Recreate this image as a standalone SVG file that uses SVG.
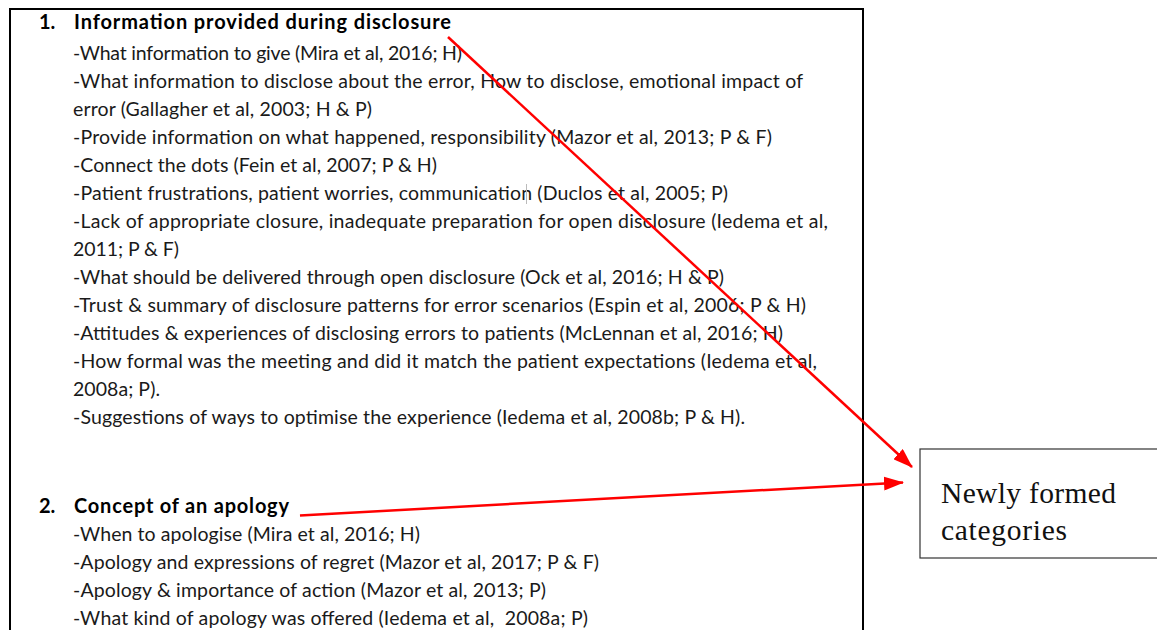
<svg xmlns="http://www.w3.org/2000/svg" width="1157" height="630" viewBox="0 0 1157 630">
  <style>
    .body { font-family: Lato, "Open Sans", sans-serif; font-size: 19.5px; fill: #1a1a1a; }
    .head { font-family: Lato, "Open Sans", sans-serif; font-size: 20px; font-weight: bold; fill: #000; }
    .note { font-family: "Liberation Serif", "DejaVu Serif", serif; font-size: 29.5px; fill: #111; }
    .frame { fill: #fff; stroke: #000; stroke-width: 2; }
    .box { fill: #fff; stroke: #333; stroke-width: 1.2; }
    .link { stroke: #f00; stroke-width: 2.5; fill: none; marker-end: url(#head); }
  </style>
  <defs>
    <marker id="head" markerUnits="userSpaceOnUse" markerWidth="20" markerHeight="14" refX="19" refY="7" orient="auto">
      <path d="M0,0 L20,7 L0,14 z" fill="#f00"/>
    </marker>
  </defs>
  <rect width="1157" height="630" fill="#fff"/>

  <!-- list of codes -->
  <g id="codes">
    <rect class="frame" x="10" y="9" width="853" height="640"/>
    <text class="head" x="39" y="29">1.</text>
    <text class="head" x="74" y="29" textLength="377" lengthAdjust="spacing">Information provided during disclosure</text>
    <text class="body" x="73" y="60" textLength="389" lengthAdjust="spacing">-What information to give (Mira et al, 2016; H)</text>
    <text class="body" x="73" y="88" textLength="730" lengthAdjust="spacing">-What information to disclose about the error, How to disclose, emotional impact of</text>
    <text class="body" x="73" y="116" textLength="299" lengthAdjust="spacing">error (Gallagher et al, 2003; H &amp; P)</text>
    <text class="body" x="73" y="144" textLength="699" lengthAdjust="spacing">-Provide information on what happened, responsibility (Mazor et al, 2013; P &amp; F)</text>
    <text class="body" x="73" y="172" textLength="364" lengthAdjust="spacing">-Connect the dots (Fein et al, 2007; P &amp; H)</text>
    <text class="body" x="73" y="200" textLength="655" lengthAdjust="spacing">-Patient frustrations, patient worries, communication (Duclos et al, 2005; P)</text>
    <line x1="526.5" y1="184" x2="526.5" y2="204" stroke="#bbb" stroke-width="1"/>
    <text class="body" x="73" y="228" textLength="755" lengthAdjust="spacing">-Lack of appropriate closure, inadequate preparation for open disclosure (Iedema et al,</text>
    <text class="body" x="73" y="256" textLength="106" lengthAdjust="spacing">2011; P &amp; F)</text>
    <text class="body" x="73" y="284" textLength="651" lengthAdjust="spacing">-What should be delivered through open disclosure (Ock et al, 2016; H &amp; P)</text>
    <text class="body" x="73" y="312" textLength="733" lengthAdjust="spacing">-Trust &amp; summary of disclosure patterns for error scenarios (Espin et al, 2006; P &amp; H)</text>
    <text class="body" x="73" y="340" textLength="710" lengthAdjust="spacing">-Attitudes &amp; experiences of disclosing errors to patients (McLennan et al, 2016; H)</text>
    <text class="body" x="73" y="368" textLength="744" lengthAdjust="spacing">-How formal was the meeting and did it match the patient expectations (Iedema et al,</text>
    <text class="body" x="73" y="396" textLength="87" lengthAdjust="spacing">2008a; P).</text>
    <text class="body" x="73" y="424" textLength="672" lengthAdjust="spacing">-Suggestions of ways to optimise the experience (Iedema et al, 2008b; P &amp; H).</text>
    <text class="head" x="39" y="513">2.</text>
    <text class="head" x="74" y="513" textLength="215" lengthAdjust="spacing">Concept of an apology</text>
    <text class="body" x="73" y="541" textLength="347" lengthAdjust="spacing">-When to apologise (Mira et al, 2016; H)</text>
    <text class="body" x="73" y="569" textLength="526" lengthAdjust="spacing">-Apology and expressions of regret (Mazor et al, 2017; P &amp; F)</text>
    <text class="body" x="73" y="597" textLength="473" lengthAdjust="spacing">-Apology &amp; importance of action (Mazor et al, 2013; P)</text>
    <text class="body" x="73" y="625" textLength="515" lengthAdjust="spacing" xml:space="preserve">-What kind of apology was offered (Iedema et al,  2008a; P)</text>
  </g>

  <!-- label box -->
  <g id="categories">
    <rect class="box" x="920" y="449" width="250" height="109"/>
    <text class="note" x="941" y="503" textLength="175" lengthAdjust="spacing">Newly formed</text>
    <text class="note" x="941" y="540" textLength="126" lengthAdjust="spacing">categories</text>
  </g>

  <g id="connectors">
    <line class="link" x1="448" y1="37" x2="912" y2="467"/>
    <line class="link" x1="300" y1="515.5" x2="903" y2="482.5"/>
  </g>
</svg>
